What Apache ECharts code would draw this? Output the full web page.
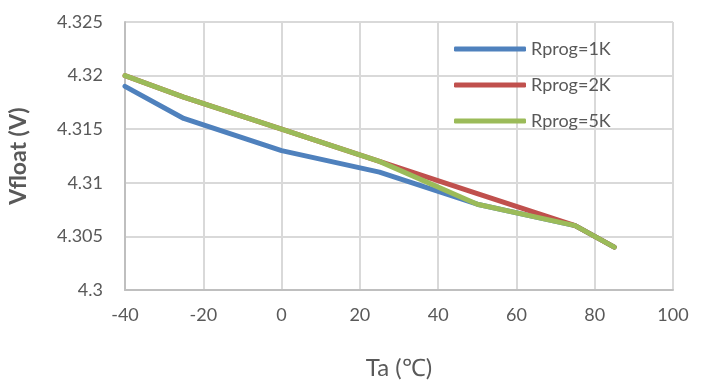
<!DOCTYPE html>
<html>
<head>
<meta charset="utf-8">
<script src="https://cdn.jsdelivr.net/npm/echarts@6/dist/echarts.min.js"></script>
<style>
    html, body { margin: 0; padding: 0; background: #fff; }
    #chart { width: 708px; height: 383px; }
</style>
</head>
<body>
<div id="chart"></div>
<script>
// 温度点 (℃)
const temps = [-40, -25, 0, 25, 50, 75, 85];
// 各 Rprog 下的 Vfloat (V)
const rprog1K = [4.319, 4.316, 4.313, 4.311, 4.308, 4.306, 4.304];
const rprog2K = [4.320, 4.318, 4.315, 4.312, 4.309, 4.306, 4.304];
const rprog5K = [4.320, 4.318, 4.315, 4.312, 4.308, 4.306, 4.304];
const seriesNames = ['Rprog=1K', 'Rprog=2K', 'Rprog=5K'];
const colors = ['#4F81BD', '#C0504D', '#9BBB59'];

function pairs(ys) {
    return temps.map((t, i) => [t, ys[i]]);
}

function initChart() {
    const chart = echarts.init(document.getElementById('chart'));
    const textColor = '#595959';
    const font = 'Lato, "Open Sans", sans-serif';
    const option = {
        animation: false,
        color: colors,
        textStyle: { fontFamily: font },
        grid: {
            left: 125,
            right: 35,
            top: 22,
            bottom: 93,
            outerBoundsMode: 'none'
        },
        legend: {
            orient: 'vertical',
            left: 449,
            top: 35,
            itemWidth: 72,
            itemHeight: 5,
            itemGap: 18,
            icon: 'roundRect',
            textStyle: { color: textColor, fontSize: 18, fontFamily: font },
            data: seriesNames
        },
        xAxis: {
            type: 'value',
            min: -40,
            max: 100,
            interval: 20,
            name: 'Ta (℃)',
            nameLocation: 'middle',
            nameGap: 66,
            nameTextStyle: { color: textColor, fontSize: 24, fontFamily: font },
            axisLine: { lineStyle: { color: '#bfbfbf', width: 2 } },
            axisTick: { show: false },
            axisLabel: { color: textColor, fontSize: 18, margin: 16 },
            splitLine: { lineStyle: { color: '#d9d9d9', width: 2 } }
        },
        yAxis: {
            type: 'value',
            min: 4.3,
            max: 4.325,
            interval: 0.005,
            name: 'Vfloat (V)',
            nameLocation: 'middle',
            nameGap: 95,
            nameTextStyle: { color: textColor, fontSize: 23, fontWeight: 'bold', fontFamily: font },
            axisLine: { show: true, onZero: false, lineStyle: { color: '#bfbfbf', width: 2 } },
            axisTick: { show: false },
            axisLabel: {
                color: textColor,
                fontSize: 18,
                margin: 22,
                formatter: v => String(parseFloat(v.toFixed(3)))
            },
            splitLine: { lineStyle: { color: '#d9d9d9', width: 2 } }
        },
        series: [rprog1K, rprog2K, rprog5K].map((ys, i) => ({
            name: seriesNames[i],
            type: 'line',
            data: pairs(ys),
            showSymbol: false,
            lineStyle: { width: 5, cap: 'round', join: 'round' }
        }))
    };
    chart.setOption(option);
}

document.addEventListener('DOMContentLoaded', initChart);
</script>
</body>
</html>
